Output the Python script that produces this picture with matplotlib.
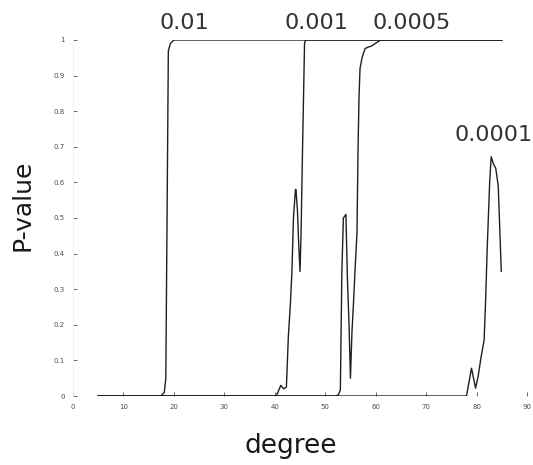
import matplotlib
matplotlib.use('Agg')
import matplotlib.pyplot as plt
from matplotlib.ticker import FuncFormatter

# P-value curves vs degree, one per threshold
deg_001 = [5, 17.4, 18.1, 18.4, 18.7, 18.9, 19.3, 20, 85]
p_001 = [0, 0, 0.01, 0.05, 0.6, 0.97, 0.99, 1, 1]

deg_0001 = [5, 40.3, 41.2, 41.8, 42.3, 42.7, 43.1, 43.4, 43.7, 44.1, 44.2,
            44.5, 44.7, 45.0, 45.2, 45.5, 45.9, 46.1, 85]
p_0001 = [0, 0, 0.03, 0.02, 0.025, 0.17, 0.26, 0.35, 0.50, 0.58, 0.58,
          0.52, 0.44, 0.35, 0.45, 0.69, 0.99, 1, 1]

deg_00005 = [5, 52.0, 52.6, 53.0, 53.3, 53.6, 54.1, 54.4, 54.7, 55.0, 55.3,
             55.6, 55.9, 56.3, 56.5, 56.7, 56.9, 57.3, 57.9, 58.5, 59.2,
             59.9, 61, 85]
p_00005 = [0, 0, 0.003, 0.017, 0.35, 0.50, 0.51, 0.33, 0.21, 0.05, 0.18,
           0.26, 0.35, 0.46, 0.69, 0.84, 0.92, 0.95, 0.976, 0.98, 0.983,
           0.99, 1, 1]

deg_00001 = [5, 78.0, 79.0, 79.8, 80.3, 80.9, 81.5, 81.8, 82.1, 82.6, 82.9,
             83.4, 83.8, 84.3, 84.6, 84.9]
p_00001 = [0, 0, 0.078, 0.022, 0.054, 0.11, 0.157, 0.27, 0.41, 0.60, 0.672,
           0.65, 0.64, 0.59, 0.47, 0.35]

labels = ['0.01', '0.001', '0.0005', '0.0001']
label_x = [22.1, 48.2, 67.2, 83.4]
label_y = [1.048, 1.048, 1.048, 0.733]

x_ticks = list(range(0, 91, 10))
y_ticks = [i / 10 for i in range(11)]

fig = plt.figure(figsize=(5.33, 4.65), dpi=100)
ax = fig.add_axes([73 / 533, 69 / 465, 454 / 533, 356 / 465])

for xs, ys in [(deg_001, p_001), (deg_0001, p_0001),
               (deg_00005, p_00005), (deg_00001, p_00001)]:
    ax.plot(xs, ys, color='0.12', linewidth=1.0)

for txt, tx, ty in zip(labels, label_x, label_y):
    ax.text(tx, ty, txt, fontsize=16, color='0.2', ha='center', va='center',
            clip_on=False)

ax.set_xlim(0, 90)
ax.set_ylim(0, 1)
ax.set_xticks(x_ticks)
ax.set_yticks(y_ticks)
ax.yaxis.set_major_formatter(FuncFormatter(lambda v, _: f'{v:g}'))
ax.tick_params(direction='in', length=3, width=0.7, color='0.4',
               labelcolor='0.3', labelsize=5, pad=6)
for name, s in ax.spines.items():
    s.set_visible(name == 'left')
ax.spines['left'].set_color('0.93')
ax.spines['left'].set_linewidth(0.6)

fig.text(23 / 533, 1 - 205 / 465, 'P-value', rotation=90, fontsize=18,
         color='0.1', ha='center', va='center')
fig.text(291 / 533, 1 - 446 / 465, 'degree', fontsize=19, color='0.1',
         ha='center', va='center')

plt.savefig('out.png', dpi=100)
